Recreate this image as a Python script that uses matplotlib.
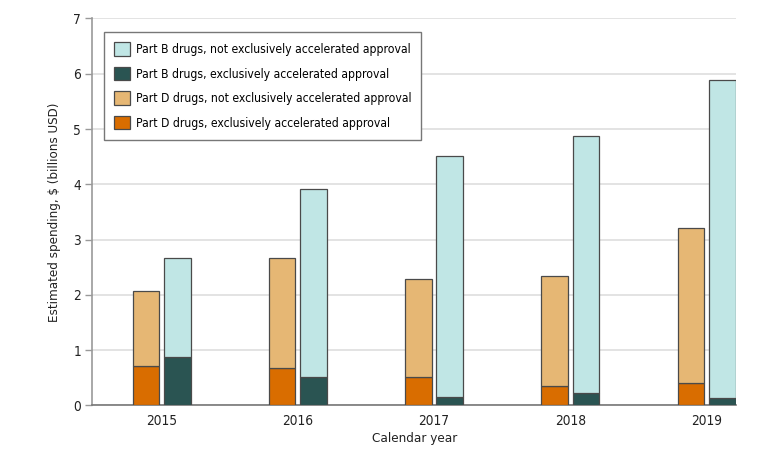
import numpy as np
import matplotlib.pyplot as plt

plt.rcParams['font.family'] = ['DejaVu Sans']
plt.rcParams['font.stretch'] = 'condensed'

years = ['2015', '2016', '2017', '2018', '2019']
# billions USD
partd_excl = [0.72, 0.67, 0.51, 0.35, 0.40]
partd_total = [2.07, 2.66, 2.28, 2.34, 3.21]
partb_excl = [0.88, 0.52, 0.15, 0.22, 0.13]
partb_total = [2.67, 3.91, 4.52, 4.87, 5.89]

partd_rest = [t - e for t, e in zip(partd_total, partd_excl)]
partb_rest = [t - e for t, e in zip(partb_total, partb_excl)]

c_b_not = '#c0e6e5'
c_b_exc = '#2a5452'
c_d_not = '#e6b774'
c_d_exc = '#d96d00'
edge = '#4a4a4a'

fig = plt.figure(figsize=(7.83, 4.61), dpi=100)
ax = fig.add_axes([0.1179, 0.1204, 0.8221, 0.8395])

x = np.arange(len(years))
w = 0.196
off = 0.115

ax.bar(x - off, partd_excl, w, color=c_d_exc, edgecolor=edge, linewidth=0.9, zorder=3,
       label='Part D drugs, exclusively accelerated approval')
ax.bar(x - off, partd_rest, w, bottom=partd_excl, color=c_d_not, edgecolor=edge, linewidth=0.9, zorder=3,
       label='Part D drugs, not exclusively accelerated approval')
ax.bar(x + off, partb_excl, w, color=c_b_exc, edgecolor=edge, linewidth=0.9, zorder=3,
       label='Part B drugs, exclusively accelerated approval')
ax.bar(x + off, partb_rest, w, bottom=partb_excl, color=c_b_not, edgecolor=edge, linewidth=0.9, zorder=3,
       label='Part B drugs, not exclusively accelerated approval')

ax.set_xlim(-0.508, 4.2165)
ax.set_ylim(0, 7)
ax.set_yticks(range(0, 8))
ax.set_xticks(x)
ax.set_xticklabels(years)
ax.tick_params(axis='x', length=0, pad=6, labelsize=9.8, colors='#222222')
ax.tick_params(axis='y', length=5, width=1, color='#999999', labelsize=9.8, labelcolor='#222222', pad=3)

ax.grid(axis='y', color='#e3e3e3', linewidth=1.4, zorder=0)
ax.set_axisbelow(True)
for s in ['top', 'right']:
    ax.spines[s].set_visible(False)
ax.spines['left'].set_color('#999999')
ax.spines['bottom'].set_color('#777777')
ax.spines['left'].set_linewidth(1.2)
ax.spines['bottom'].set_linewidth(1.2)

ax.set_xlabel('Calendar year', fontsize=9.6, color='#222222', labelpad=3)
ax.set_ylabel('Estimated spending, $ (billions USD)', fontsize=9.5, color='#222222', labelpad=9)

handles, labels = ax.get_legend_handles_labels()
order = [3, 2, 1, 0]
leg = ax.legend([handles[i] for i in order], [labels[i] for i in order],
                loc='upper left', bbox_to_anchor=(0.018, 0.965), borderaxespad=0,
                fontsize=8.7, frameon=True, fancybox=False, edgecolor='#777777', framealpha=1,
                handlelength=1.32, handleheight=1.32, handletextpad=0.45,
                labelspacing=0.9, borderpad=0.85)
leg.get_frame().set_linewidth(1.0)

fig.savefig('out.png', dpi=100)
